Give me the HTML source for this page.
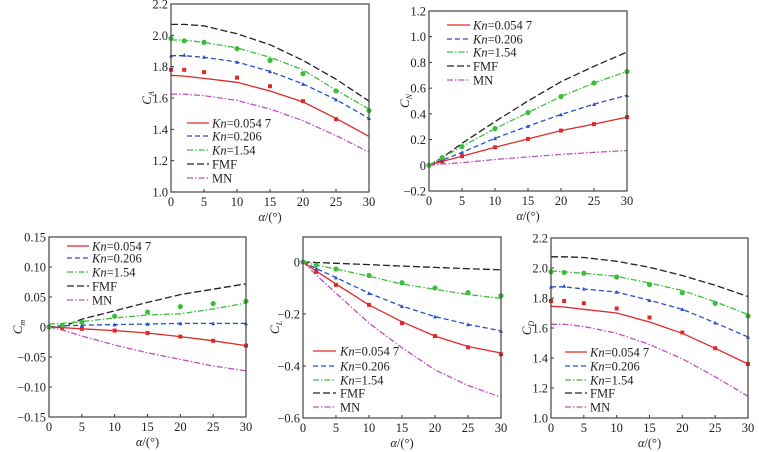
<!DOCTYPE html>
<html><head><meta charset="utf-8"><style>
html,body{margin:0;padding:0;background:#fff;width:759px;height:452px;overflow:hidden}
svg text{font-family:"Liberation Serif",serif;fill:#222}
</style></head><body>
<svg id="s" width="759" height="452" xmlns="http://www.w3.org/2000/svg"></svg>
<script>
const X=[0,2,5,10,15,20,25,30];
const panels=[
{l:171,r:369,t:4,b:192,y0:1.0,y1:2.2,ticks:[1.0,1.2,1.4,1.6,1.8,2.0,2.2],fmt:v=>v.toFixed(1),lab:"C",sub:"A",lx:146,
 leg:{x1:187,x2:209,tx:212,ys:[123,136,150,164,178]},
 d:{F:[2.07,2.07,2.06,2.01,1.94,1.84,1.72,1.58],G:[1.97,1.97,1.955,1.92,1.86,1.78,1.65,1.53],B:[1.87,1.87,1.86,1.83,1.77,1.69,1.59,1.47],R:[1.745,1.74,1.725,1.70,1.645,1.575,1.47,1.355],M:[1.625,1.625,1.615,1.585,1.53,1.455,1.36,1.255],
 Gd:[1.98,1.965,1.955,1.915,1.84,1.755,1.645,1.52],Bd:[1.87,1.875,1.862,1.83,1.77,1.69,1.59,1.47],Rd:[1.78,1.78,1.765,1.73,1.675,1.58,1.465,null]}},
{l:429,r:627,t:11,b:191,y0:-0.2,y1:1.2,ticks:[-0.2,0,0.2,0.4,0.6,0.8,1.0,1.2],fmt:v=>v==0?"0":v.toFixed(1).replace("-","−"),lab:"C",sub:"N",lx:404,
 leg:{x1:447,x2:470,tx:473,ys:[25,39,52,66,80]},
 d:{F:[0,0.06,0.17,0.34,0.50,0.65,0.77,0.88],G:[0,0.06,0.145,0.285,0.41,0.535,0.64,0.73],B:[0,0.04,0.10,0.21,0.305,0.395,0.475,0.545],R:[0,0.03,0.07,0.14,0.205,0.27,0.32,0.375],M:[0,0.01,0.02,0.045,0.065,0.085,0.10,0.115],
 Gd:[0,0.06,0.145,0.285,0.41,0.535,0.64,0.73],Bd:[0,0.04,0.10,0.21,0.305,0.395,0.475,0.545],Rd:[0,0.03,0.07,0.14,0.205,0.27,0.32,0.375]}},
{l:49,r:246,t:237,b:417,y0:-0.15,y1:0.15,ticks:[-0.15,-0.10,-0.05,0,0.05,0.10,0.15],fmt:v=>v==0?"0":v.toFixed(2).replace("-","−"),lab:"C",sub:"m",lx:17,
 leg:{x1:67,x2:89,tx:92,ys:[246,258,272,286,300]},
 d:{F:[0,0,0.013,0.027,0.041,0.054,0.063,0.072],G:[0.005,0.006,0.009,0.015,0.02,0.022,0.03,0.04],B:[0,0.002,0.003,0.004,0.005,0.006,0.006,0.006],R:[0,-0.001,-0.003,-0.006,-0.01,-0.016,-0.023,-0.031],M:[0,-0.005,-0.015,-0.03,-0.043,-0.054,-0.065,-0.073],
 Gd:[0,0.003,0.008,0.018,0.025,0.034,0.039,0.043],Bd:[0,0.002,0.003,0.004,0.005,0.006,0.006,0.006],Rd:[0,-0.001,-0.003,-0.006,-0.01,-0.016,-0.023,-0.031]}},
{l:303,r:501,t:237,b:418,y0:-0.6,y1:0.096,ticks:[-0.6,-0.4,-0.2,0],fmt:v=>v==0?"0":v.toFixed(1).replace("-","−"),lab:"C",sub:"L",lx:274,
 leg:{x1:313,x2:336,tx:340,ys:[351,366,380,393,407]},
 d:{F:[0,-0.002,-0.005,-0.01,-0.016,-0.021,-0.026,-0.03],G:[0,-0.012,-0.027,-0.055,-0.085,-0.105,-0.125,-0.14],B:[0,-0.025,-0.06,-0.12,-0.17,-0.21,-0.24,-0.265],R:[0,-0.035,-0.085,-0.165,-0.23,-0.285,-0.325,-0.35],M:[0,-0.05,-0.12,-0.235,-0.33,-0.415,-0.475,-0.52],
 Gd:[0,-0.012,-0.027,-0.052,-0.08,-0.1,-0.118,-0.13],Bd:[0,-0.025,-0.06,-0.12,-0.17,-0.21,-0.24,-0.265],Rd:[0,-0.038,-0.088,-0.165,-0.235,-0.285,-0.328,-0.355]}},
{l:551,r:748,t:238,b:418,y0:1.0,y1:2.2,ticks:[1.0,1.2,1.4,1.6,1.8,2.0,2.2],fmt:v=>v.toFixed(1),lab:"C",sub:"D",lx:526,
 leg:{x1:565,x2:587,tx:590,ys:[352,366,380,393,407]},
 d:{F:[2.075,2.075,2.07,2.045,2.005,1.95,1.885,1.81],G:[1.98,1.975,1.965,1.945,1.9,1.85,1.775,1.69],B:[1.875,1.875,1.86,1.84,1.785,1.725,1.635,1.54],R:[1.745,1.74,1.725,1.70,1.64,1.565,1.465,1.36],M:[1.625,1.625,1.61,1.565,1.49,1.395,1.275,1.145],
 Gd:[1.975,1.97,1.965,1.94,1.89,1.835,1.765,1.68],Bd:[1.875,1.88,1.862,1.84,1.785,1.725,1.635,1.54],Rd:[1.78,1.78,1.765,1.73,1.67,1.57,1.465,1.36]}}
];
const ser={R:{c:"#e02828",da:""},B:{c:"#2850c8",da:"5,3"},G:{c:"#3cbe3c",da:"6,2,1.5,2"},F:{c:"#222",da:"7,3"},M:{c:"#c050c0",da:"6,2,1.5,2"}};
let h="";
for(const p of panels){
 const sx=v=>p.l+(p.r-p.l)*v/30, sy=v=>p.b-(p.b-p.t)*(v-p.y0)/(p.y1-p.y0);
 for(const v of p.ticks){const y=sy(v);h+=`<line x1="${p.l}" x2="${p.l+3}" y1="${y}" y2="${y}" stroke="#333"/><text x="${p.l-3}" y="${y+4.5}" font-size="12.5" text-anchor="end">${p.fmt(v)}</text>`;}
 for(const v of [0,5,10,15,20,25,30]){const x=sx(v);h+=`<line x1="${x}" x2="${x}" y1="${p.b}" y2="${p.b-3}" stroke="#333"/><text x="${x}" y="${p.b+14}" font-size="12.5" text-anchor="middle">${v}</text>`;}
 h+=`<text x="${(p.l+p.r)/2}" y="${p.b+29}" font-size="12.5" text-anchor="middle"><tspan font-style="italic">α</tspan>/(°)</text>`;
 const cy=(p.t+p.b)/2;
 h+=`<text transform="translate(${p.lx+5},${cy}) rotate(-90)" font-size="13" text-anchor="middle"><tspan font-style="italic">C</tspan><tspan font-size="8" font-style="italic" dy="3">${p.sub}</tspan></text>`;
 for(const k of ["M","F","B","R","G"]){const s=ser[k];h+=`<polyline fill="none" stroke="${s.c}" stroke-width="1.3" stroke-dasharray="${s.da}" points="${X.map((x,i)=>sx(x).toFixed(1)+","+sy(p.d[k][i]).toFixed(1)).join(" ")}"/>`;}
 X.forEach((x,i)=>{
  let v=p.d.Rd[i]; if(v!=null) h+=`<rect x="${sx(x)-2}" y="${sy(v)-2}" width="4" height="4" fill="#e02828"/>`;
  v=p.d.Bd[i]; if(v!=null){const X0=sx(x),Y0=sy(v);h+=`<polygon points="${X0-2},${Y0+1.8} ${X0+2},${Y0+1.8} ${X0},${Y0-2}" fill="#2850c8"/>`;}
  v=p.d.Gd[i]; if(v!=null) h+=`<circle cx="${sx(x)}" cy="${sy(v)}" r="2.6" fill="#3cbe3c"/>`;
 });
 h+=`<rect x="${p.l}" y="${p.t}" width="${p.r-p.l}" height="${p.b-p.t}" fill="none" stroke="#444" stroke-width="1.2"/>`;
 const L=p.leg,labs=[["R","<tspan font-style='italic'>Kn</tspan>=0.054 7"],["B","<tspan font-style='italic'>Kn</tspan>=0.206"],["G","<tspan font-style='italic'>Kn</tspan>=1.54"],["F","FMF"],["M","MN"]];
 labs.forEach(([k,t],i)=>{const y=L.ys[i],s=ser[k];h+=`<line x1="${L.x1}" x2="${L.x2}" y1="${y}" y2="${y}" stroke="${s.c}" stroke-width="1.3" stroke-dasharray="${s.da}"/><text x="${L.tx}" y="${y+4.5}" font-size="12.5">${t}</text>`;});
}
document.getElementById("s").innerHTML=h;
</script>
</body></html>
